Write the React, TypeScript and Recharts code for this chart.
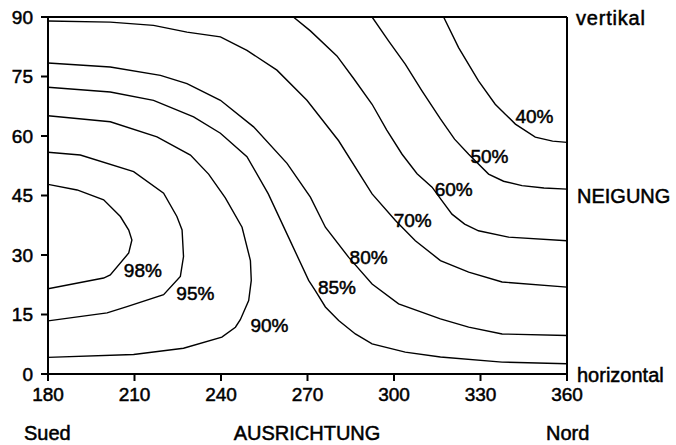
import React from 'react';
import { ComposedChart, Line, Scatter, XAxis, YAxis, ReferenceLine } from 'recharts';

const FONT = '"Liberation Sans", Arial, Helvetica, sans-serif';

// Axis ticks
const xTicks = [180, 210, 240, 270, 300, 330, 360];
const yTicks = [0, 15, 30, 45, 60, 75, 90];

// Contour lines: [azimuth (Ausrichtung), tilt (Neigung)]
const c40 = [[317.2, 90], [322.4, 82.3], [329.3, 73.9], [335.1, 68.0], [338.6, 65.5], [342.1, 63.0], [349.0, 59.7], [355, 58.7], [360, 58.4]];
const c50 = [[292.4, 90], [298.1, 84.0], [303.9, 78.1], [309.7, 71.4], [316.1, 64.3], [321, 59.2], [325.9, 55.4], [332.8, 50.4], [338, 48.6], [344.4, 47.5], [352, 46.9], [360, 46.6]];
const c60 = [[265.1, 90], [271.0, 86.5], [280.2, 80.2], [286, 74.5], [292.4, 68.0], [297.5, 61.5], [302.8, 55.4], [308, 50.5], [313.2, 47.1], [316.1, 44.2], [320.1, 40.3], [324.5, 37.8], [329.3, 36.1], [339.7, 34.5], [360, 33.6]];
const c70 = [[180, 89.0], [201.6, 88.7], [216.6, 87.9], [228.2, 86.2], [239.8, 85.0], [249.0, 81.6], [259.4, 76.6], [269.8, 69.0], [280.8, 58.8], [292.4, 45.4], [300.5, 38.7], [307.4, 33.6], [316.1, 28.6], [325.9, 25.7], [337.5, 23.2], [360, 21.9]];
const c80 = [[180, 78.4], [201.6, 77.4], [219.0, 75.3], [228.2, 73.2], [239.8, 69.0], [251.3, 62.3], [262.9, 53.1], [271.0, 44.6], [276.2, 37.0], [284.3, 29.4], [292.4, 22.7], [301.6, 17.7], [316.1, 13.9], [325.9, 11.8], [337.5, 10.1], [360, 9.7]];
const c85 = [[180, 72.3], [201.6, 71.1], [216.6, 69.0], [230.5, 64.8], [239.8, 60.7], [249.0, 54.8], [256.4, 45.4], [263.4, 34.5], [270.4, 23.6], [272.7, 21.0], [276.2, 16.9], [280.8, 13.5], [286.6, 10.1], [292.4, 7.6], [303.9, 5.5], [316.1, 4.3], [337.5, 3.0], [360, 2.6]];
const c90 = [[180, 65.1], [201.6, 63.6], [217.8, 59.8], [229.4, 55.2], [235.7, 50.4], [241.5, 44.4], [247.3, 37.0], [250.2, 28.6], [250.5, 23.6], [249.6, 18.5], [246.7, 13.7], [245.0, 11.8], [240.3, 9.3], [227.0, 6.5], [209.7, 4.9], [180, 4.2]];
const c95 = [[180, 55.9], [191.2, 55.2], [209.7, 51.0], [220.1, 45.6], [224.7, 39.7], [226.5, 36.3], [227.0, 29.6], [225.9, 24.6], [220.1, 20.0], [207.4, 17.0], [200.5, 15.4], [180, 13.4]];
const c98 = [[180, 47.8], [190.1, 46.4], [199.3, 43.9], [205.1, 39.7], [208.0, 36.3], [209.1, 33.8], [208.0, 30.5], [201.6, 25.0], [199.3, 24.2], [180, 21.5]];

// Contour label texts and positions
const labelTexts = ['40%', '50%', '60%', '70%', '80%', '85%', '90%', '95%', '98%'];
const labelAz = [348.7, 333.1, 320.7, 306.5, 291.2, 280.2, 256.8, 231.1, 212.9];
const labelTilt = [65.1, 55.0, 46.6, 38.7, 29.4, 21.9, 12.2, 20.4, 26.3];

const toPts = (a: number[][]) => a.map(([az, tilt]) => ({ az, tilt }));
const contours = [c40, c50, c60, c70, c80, c85, c90, c95, c98].map(toPts);
const labels = labelTexts.map((text, i) => ({ text, az: labelAz[i], tilt: labelTilt[i] }));

const SW = 0.5;

const LabelShape = (props: any) => {
  const { cx, cy, payload } = props;
  return (
    <text x={cx} y={cy} dy="0.36em" textAnchor="middle" fontFamily={FONT} fontSize={19} fill="#000" stroke="#000" strokeWidth={SW}>
      {payload.text}
    </text>
  );
};

const tickStyle = { fill: '#000', fontSize: 19, fontFamily: FONT, stroke: '#000', strokeWidth: SW };
const lineStyle = { stroke: '#000', strokeWidth: 2 };
const txt = { fontFamily: FONT, fontSize: 20, fill: '#000', stroke: '#000', strokeWidth: SW } as const;

export default function App() {
  return (
    <div style={{ position: 'absolute', left: 0, top: 0, width: 676, height: 445, background: '#fff' }}>
      <ComposedChart width={676} height={445} margin={{ top: 17, right: 109, bottom: 0, left: 0 }}>
        <XAxis
          type="number"
          dataKey="az"
          domain={[180, 360]}
          ticks={xTicks}
          interval={0}
          allowDataOverflow
          height={71}
          tickSize={7}
          tickMargin={7}
          axisLine={lineStyle}
          tickLine={lineStyle}
          tick={tickStyle}
        />
        <YAxis
          type="number"
          dataKey="tilt"
          domain={[0, 90]}
          ticks={yTicks}
          interval={0}
          allowDataOverflow
          width={48}
          tickSize={7}
          tickMargin={8}
          axisLine={lineStyle}
          tickLine={lineStyle}
          tick={tickStyle}
        />
        <ReferenceLine x={360} stroke="#000" strokeWidth={2} />
        <ReferenceLine y={90} stroke="#000" strokeWidth={2} />
        {contours.map((pts, i) => (
          <Line
            key={i}
            data={pts}
            dataKey="tilt"
            type="linear"
            stroke="#000"
            strokeWidth={1.4}
            dot={false}
            activeDot={false}
            isAnimationActive={false}
          />
        ))}
        <Scatter data={labels} dataKey="tilt" shape={LabelShape} isAnimationActive={false} />
        <text x={576} y={25} {...txt} letterSpacing={0.8}>vertikal</text>
        <text x={577} y={203} {...txt}>NEIGUNG</text>
        <text x={577} y={381.5} {...txt}>horizontal</text>
        <text x={24} y={440} {...txt}>Sued</text>
        <text x={307} y={440} textAnchor="middle" {...txt}>AUSRICHTUNG</text>
        <text x={546} y={440} {...txt}>Nord</text>
      </ComposedChart>
    </div>
  );
}
